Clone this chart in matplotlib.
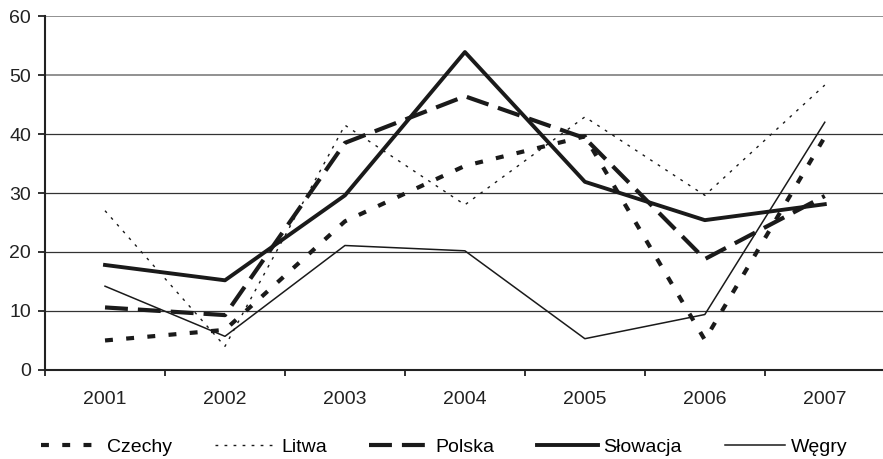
import matplotlib.pyplot as plt
import numpy as np

plt.rcParams['font.family'] = ['Liberation Sans', 'DejaVu Sans']

years = ['2001', '2002', '2003', '2004', '2005', '2006', '2007']
czechy = [5.0, 6.8, 25.2, 34.6, 39.6, 5.1, 39.5]
litwa = [27.0, 4.0, 41.5, 28.0, 42.9, 29.6, 48.3]
polska = [10.6, 9.3, 38.5, 46.4, 39.3, 18.8, 29.5]
slowacja = [17.8, 15.2, 29.6, 53.9, 31.9, 25.4, 28.1]
wegry = [14.2, 5.7, 21.1, 20.2, 5.3, 9.4, 42.0]

fig = plt.figure(figsize=(8.83, 4.59), dpi=100)
ax = fig.add_axes([0.051, 0.194, 0.951, 0.771])

x = np.arange(len(years))
ax.plot(x, czechy, color='#1a1a1a', lw=3.0, linestyle=(0, (1.9, 3.2)), label='Czechy')
ax.plot(x, litwa, color='#1a1a1a', lw=1.0, linestyle=(0, (2, 4.5)), label='Litwa')
ax.plot(x, polska, color='#1a1a1a', lw=3.0, linestyle=(0, (5.5, 2.4)), label='Polska')
ax.plot(x, slowacja, color='#1a1a1a', lw=2.8, label='Słowacja')
ax.plot(x, wegry, color='#1a1a1a', lw=1.1, label='Węgry')

ax.set_xlim(-0.5, 6.5)
ax.set_ylim(0, 60)
ax.set_yticks(range(0, 61, 10))
ax.set_xticks(x)
ax.set_xticklabels(years)
ax.set_xticks(np.arange(-0.5, 7, 1), minor=True)
ax.tick_params(axis='x', which='major', length=0, pad=15, labelsize=14, colors='#222')
ax.tick_params(axis='x', which='minor', length=4, width=1.3, direction='out', color='#222')
ax.tick_params(axis='y', length=5, width=1.3, labelsize=14, colors='#222', pad=5)

ax.grid(axis='y', color='#333333', lw=0.9)
gl = ax.yaxis.get_gridlines()
for i, g in enumerate(gl):
    if i >= 5:
        g.set_color('#888888')
        g.set_linewidth(1.3)
ax.set_axisbelow(True)

for s in ['top', 'right']:
    ax.spines[s].set_visible(False)
for s in ['left', 'bottom']:
    ax.spines[s].set_color('#222')
    ax.spines[s].set_linewidth(1.5)

fig.legend(loc='center', bbox_to_anchor=(0.503, 0.026), ncol=5, frameon=False,
           fontsize=14, handlelength=3.1, handletextpad=0.3, columnspacing=2.2,
           borderpad=0, borderaxespad=0)

fig.savefig('out.png', dpi=100)
